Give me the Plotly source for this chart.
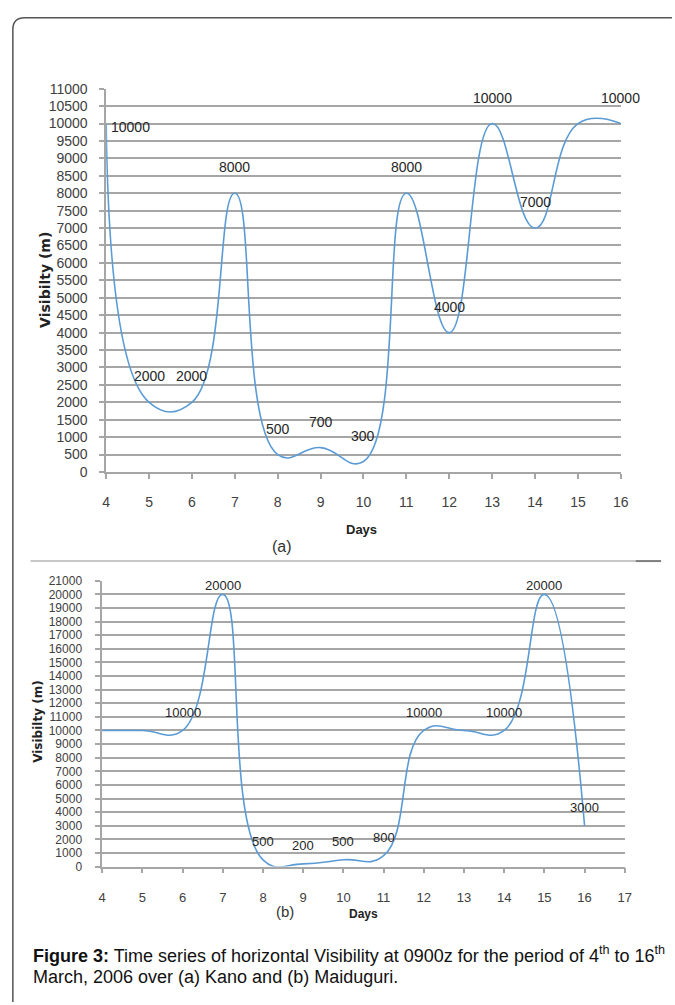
import plotly.graph_objects as go

# Days of March 2006 (0900z observations)
days = list(range(4, 17))

# (a) Kano horizontal visibility, metres
kano_vis = [10000, 2000, 2000, 8000, 500, 700, 300, 8000, 4000, 10000, 7000, 10000, 10000]
kano_labelled = [4, 5, 6, 7, 8, 9, 10, 11, 12, 13, 14, 16]

# (b) Maiduguri horizontal visibility, metres
maid_vis = [10000, 10000, 10000, 20000, 500, 200, 500, 800, 10000, 10000, 10000, 20000, 3000]
maid_labelled = [6, 7, 8, 9, 10, 11, 12, 14, 15, 16]

kano_yticks = list(range(0, 11001, 500))
maid_yticks = list(range(0, 21001, 1000))

W, H = 675, 1005
LINE = "#5B9BD5"
GRID = "#A6A6A6"
TXT = "#404040"
SANS = "Liberation Sans, Arial, sans-serif"


def px(x):
    return x / W


def py(y):
    return 1 - y / H


fig = go.Figure()

fig.add_trace(go.Scatter(
    x=days, y=kano_vis, mode="lines", xaxis="x", yaxis="y",
    line=dict(color=LINE, width=1.6, shape="spline", smoothing=1.3),
    hoverinfo="skip", showlegend=False))

fig.add_trace(go.Scatter(
    x=days, y=maid_vis, mode="lines", xaxis="x2", yaxis="y2",
    line=dict(color=LINE, width=1.6, shape="spline", smoothing=1.3),
    hoverinfo="skip", showlegend=False))

common_axis = dict(
    showline=True, linecolor=GRID, linewidth=1.5,
    ticks="outside", tickcolor=GRID, ticklen=5, tickwidth=1.5,
    gridcolor=GRID, gridwidth=1.5, tickformat="d",
    zeroline=False, tickfont=dict(family=SANS, size=14, color=TXT),
)

fig.update_layout(
    width=W, height=H,
    margin=dict(l=0, r=0, t=0, b=0),
    paper_bgcolor="white", plot_bgcolor="white",
    showlegend=False,
    xaxis=dict(common_axis, domain=[px(104), px(628)], range=[4, 16],
               tickmode="array", tickvals=days, anchor="y",
               showgrid=False, ticklabelstandoff=11),
    yaxis=dict(common_axis, domain=[py(471.5), py(82)], range=[0, 11000],
               tickmode="array", tickvals=kano_yticks, anchor="x",
               showgrid=True, ticklabelstandoff=9),
    xaxis2=dict(common_axis, domain=[px(100), px(632)], range=[4, 17],
                tickmode="array", tickvals=list(range(4, 18)), anchor="y2",
                showgrid=False, ticklabelstandoff=13,
                tickfont=dict(family=SANS, size=13, color=TXT)),
    yaxis2=dict(common_axis, domain=[py(872.5), py(582)], range=[0, 21000],
                tickmode="array", tickvals=maid_yticks, anchor="x2",
                showgrid=True, ticklabelstandoff=11,
                tickfont=dict(family=SANS, size=12, color=TXT)),
)

annotations = []

# data labels, chart (a)
for d, v in zip(days, kano_vis):
    if d not in kano_labelled:
        continue
    xs, ys = (24, -3) if d == days[0] else (0, 26)
    annotations.append(dict(
        x=d, y=v, xref="x", yref="y", text=f"{v}", showarrow=False,
        xanchor="center", yanchor="middle",
        xshift=xs, yshift=ys, font=dict(family=SANS, size=14, color="#262626")))

# data labels, chart (b)
for d, v in zip(days, maid_vis):
    if d not in maid_labelled:
        continue
    ys = 9 if v >= 20000 else 18
    annotations.append(dict(
        x=d, y=v, xref="x2", yref="y2", text=f"{v}", showarrow=False,
        xanchor="center", yanchor="middle",
        yshift=ys, font=dict(family=SANS, size=13, color="#262626")))


def paper_text(x, y, text, font, angle=0, xanchor="center"):
    return dict(x=px(x), y=py(y), xref="paper", yref="paper", text=text,
                textangle=angle, showarrow=False, xanchor=xanchor,
                yanchor="middle", font=font)


ytitle_a = dict(family="DejaVu Sans, Verdana, sans-serif", size=14, color="#222222")
ytitle_b = dict(family="DejaVu Sans, Verdana, sans-serif", size=12, color="#222222")
caption_font = dict(family=SANS, size=18, color="#111111")
annotations += [
    paper_text(41, 276, "<b>Visibilty (m)</b>", ytitle_a, angle=-90),
    paper_text(35, 725, "<b>Visibilty (m)</b>", ytitle_b, angle=-90),
    paper_text(364, 530, "<b>Days</b>", dict(family=SANS, size=13, color="#222222")),
    paper_text(283, 547, "(a)", dict(family=SANS, size=16, color="#333333")),
    paper_text(366, 921, "<b>Days</b>", dict(family=SANS, size=12, color="#222222")),
    paper_text(286, 918, "(b)", dict(family=SANS, size=15, color="#333333")),
    paper_text(27, 962,
               "<b>Figure 3:</b> Time series of horizontal Visibility at 0900z for the period of 4<sup>th</sup> to 16<sup>th</sup>",
               caption_font, xanchor="left"),
    paper_text(27, 985, "March, 2006 over (a) Kano and (b) Maiduguri.",
               caption_font, xanchor="left"),
]
fig.update_layout(annotations=annotations)

# outer frame with rounded top-left corner
frame = (f"M {px(9)},{py(1010)} L {px(9)},{py(22)} "
         f"Q {px(9)},{py(10)} {px(21)},{py(10)} L {px(680)},{py(10)}")
shapes = [
    dict(type="path", path=frame, xref="paper", yref="paper",
         line=dict(color="#555555", width=1.5)),
    dict(type="line", xref="paper", yref="paper", x0=px(27), x1=px(643),
         y0=py(562), y1=py(562), line=dict(color="#B5B5B5", width=1.5)),
    dict(type="line", xref="paper", yref="paper", x0=px(643), x1=px(669),
         y0=py(562), y1=py(562), line=dict(color="#7F7F7F", width=2)),
]
fig.update_layout(shapes=shapes)

fig.write_html("out.html")
